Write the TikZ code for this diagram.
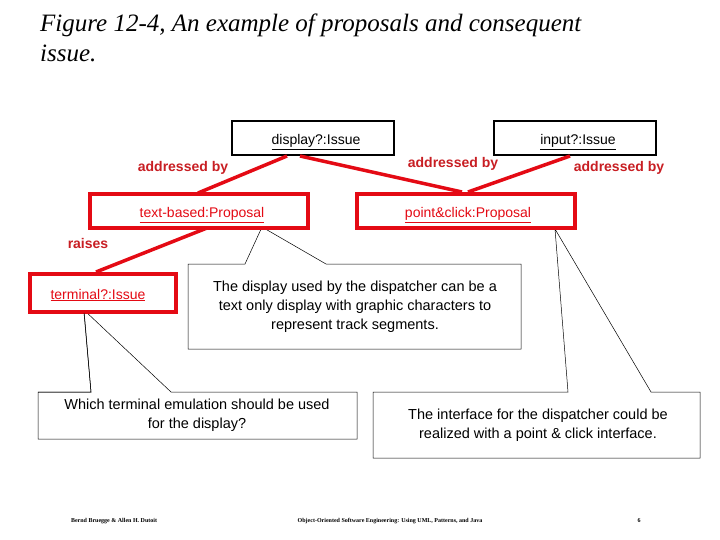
\documentclass[tikz,border=0pt]{standalone}
\usepackage{fontspec}
\setmainfont{Liberation Sans}
\newfontfamily\tnr{Liberation Serif}
\newcommand\myul[1]{\underline{#1}}
\definecolor{boxred}{RGB}{228,10,20}
\definecolor{labred}{RGB}{200,30,35}
\begin{document}
\begin{tikzpicture}[x=1pt,y=-1pt,
  issue/.style={draw=black,line width=2.5pt},
  prop/.style={draw=boxred,line width=3.5pt},
  link/.style={draw=boxred,line width=3.5pt},
  lab/.style={text=labred,font=\fontsize{14}{16}\selectfont\bfseries},
  btxt/.style={font=\fontsize{14}{16}\selectfont,anchor=base},
  note/.style={draw=black,line width=0.5pt,fill=white},
  ntxt/.style={font=\fontsize{14.5}{19}\selectfont,align=center}]
\useasboundingbox (0,0) rectangle (720,540);
% title
\node[anchor=north west,font=\tnr\itshape\fontsize{25}{30}\selectfont,align=left,inner sep=0] (title) at (40,14) {Figure 12-4, An example of proposals and consequent\\issue.};
% callout notes (drawn first)
\draw[note] (188,264) -- (245,264) -- (262,227) -- (326,264) -- (521,264) -- (521,349) -- (188,349) -- cycle;
\draw[note] (38,392) -- (91,392) -- (84,310) -- (171,392) -- (357,392) -- (357,439) -- (38,439) -- cycle;
\draw[note] (373,392) -- (568,392) -- (555,229) -- (651,392) -- (700,392) -- (700,458) -- (373,458) -- cycle;
% boxes
\draw[issue,fill=white] (232,121) rectangle (394,155);
\node[btxt] (disp) at (316,145) {\myul{display?:Issue}};
\draw[issue,fill=white] (494,121) rectangle (656,155);
\node[btxt] (inp) at (578,145) {\myul{input?:Issue}};
% links
\coordinate (d1) at (287,156); \coordinate (tb) at (198,193);
\coordinate (d2) at (300,156); \coordinate (pc) at (462,192);
\coordinate (i1) at (570,156); \coordinate (pc2) at (468,192);
\coordinate (tbb) at (207,228); \coordinate (tt) at (96,272);
\draw[link] (d1) -- (tb);
\draw[link] (d2) -- (pc);
\draw[link] (i1) -- (pc2);
\draw[link] (tbb) -- (tt);
\draw[prop,fill=white] (90,194) rectangle (308,228);
\node[btxt,text=boxred] (tbp) at (202,218) {\myul{text-based:Proposal}};
\draw[prop,fill=white] (357,194) rectangle (575,228);
\node[btxt,text=boxred] (pcp) at (468,218) {\myul{point\&click:Proposal}};
\draw[prop,fill=white] (30,274) rectangle (176,312);
\node[btxt,text=boxred] (term) at (98,299) {\myul{terminal?:Issue}};
\draw[note,fill=none] (38,392) -- (91,392) -- (84,313);
% labels
\node[lab] (l1) at (183,168) {addressed by};
\node[lab] (l2) at (453,164) {addressed by};
\node[lab] (l3) at (619,168) {addressed by};
\node[lab] (l4) at (88,243) {raises};
% note texts
\node[ntxt] (n1) at (355,307) {The display used by the dispatcher can be a\\text only display with graphic characters to\\represent track segments.};
\node[ntxt] (n2) at (197,415) {Which terminal emulation should be used\\for the display?};
\node[ntxt] (n3) at (538,425) {The interface for the dispatcher could be\\realized with a point \& click interface.};
% footer
\node[font=\tnr\bfseries\fontsize{6}{7}\selectfont] (f1) at (114,521) {Bernd Bruegge \& Allen H. Dutoit};
\node[font=\tnr\bfseries\fontsize{6}{7}\selectfont] (f2) at (390,521) {Object-Oriented Software Engineering: Using UML, Patterns, and Java};
\node[font=\tnr\bfseries\fontsize{6}{7}\selectfont] (f3) at (639,521) {6};
\end{tikzpicture}
\end{document}
